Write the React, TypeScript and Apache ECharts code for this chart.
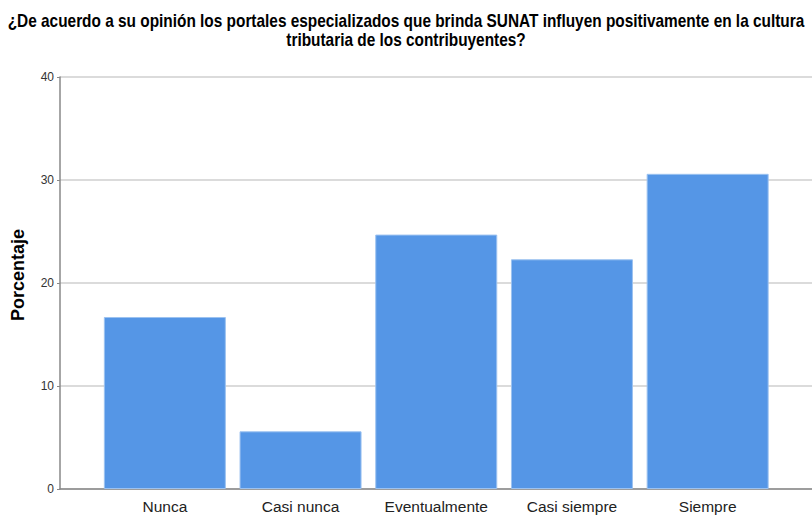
import React, { useEffect, useRef } from "react";
import * as echarts from "echarts";

const categories = ["Nunca", "Casi nunca", "Eventualmente", "Casi siempre", "Siempre"];
const percentages = [16.7, 5.6, 24.7, 22.3, 30.6];
const yTicks = [0, 10, 20, 30, 40];
const titleLines = [
  "¿De acuerdo a su opinión los portales especializados que brinda SUNAT influyen positivamente en la cultura",
  "tributaria de los contribuyentes?",
];
const yName = "Porcentaje";

const FONT = '"Liberation Sans", Arial, sans-serif';

export default function App() {
  const ref = useRef<HTMLDivElement>(null);
  useEffect(() => {
    if (!ref.current) return;
    const chart = echarts.init(ref.current, null, { renderer: "svg" });
    chart.setOption({
      animation: false,
      backgroundColor: "#ffffff",
      graphic: titleLines.map((t, i) => ({
        type: "text",
        x: 406,
        y: 21 + i * 19,
        scaleX: 0.88,
        style: {
          text: t,
          align: "center",
          verticalAlign: "middle",
          fontFamily: FONT,
          fontWeight: "bold",
          fontSize: 17.5,
          fill: "#000",
        },
      })),
      grid: [
        { left: 60, right: 0, top: 77, bottom: 27 },
        { left: 97, right: 36.5, top: 77, bottom: 27 },
      ],
      xAxis: [
        {
          gridIndex: 0,
          type: "value",
          min: 0,
          max: 1,
          axisLine: { show: true, onZero: false, lineStyle: { color: "#888", width: 1.5 } },
          axisTick: { show: false },
          axisLabel: { show: false },
          splitLine: { show: false },
        },
        {
          gridIndex: 1,
          type: "category",
          data: categories,
          axisLine: { show: false },
          axisTick: { show: false },
          axisLabel: {
            interval: 0,
            margin: 9,
            fontFamily: FONT,
            fontSize: 15.5,
            color: "#222",
          },
        },
      ],
      yAxis: [
        {
          gridIndex: 0,
          type: "value",
          min: yTicks[0],
          max: yTicks[yTicks.length - 1],
          interval: 10,
          name: yName,
          nameLocation: "middle",
          nameGap: 33,
          nameTextStyle: {
            fontFamily: FONT,
            fontWeight: "bold",
            fontSize: 18,
            color: "#000",
            padding: [0, 0, 0, 16],
          },
          axisLine: { show: true, lineStyle: { color: "#888", width: 1.5 } },
          axisTick: { show: true, length: 3, lineStyle: { color: "#888" } },
          axisLabel: {
            margin: 6,
            fontFamily: FONT,
            fontSize: 12,
            color: "#333",
          },
          splitLine: { show: true, lineStyle: { color: "#cfcfcf", width: 1.5 } },
        },
        {
          gridIndex: 1,
          type: "value",
          min: yTicks[0],
          max: yTicks[yTicks.length - 1],
          show: false,
          splitLine: { show: false },
        },
      ],
      series: [
        {
          type: "bar",
          xAxisIndex: 1,
          yAxisIndex: 1,
          data: percentages,
          barWidth: 122,
          itemStyle: {
            color: "#5596e6",
            borderColor: "#9cc2f0",
            borderWidth: 1,
          },
        },
      ],
    });
    return () => chart.dispose();
  }, []);
  return (
    <div
      ref={ref}
      style={{ position: "absolute", left: 0, top: 0, width: 812, height: 516 }}
    />
  );
}
